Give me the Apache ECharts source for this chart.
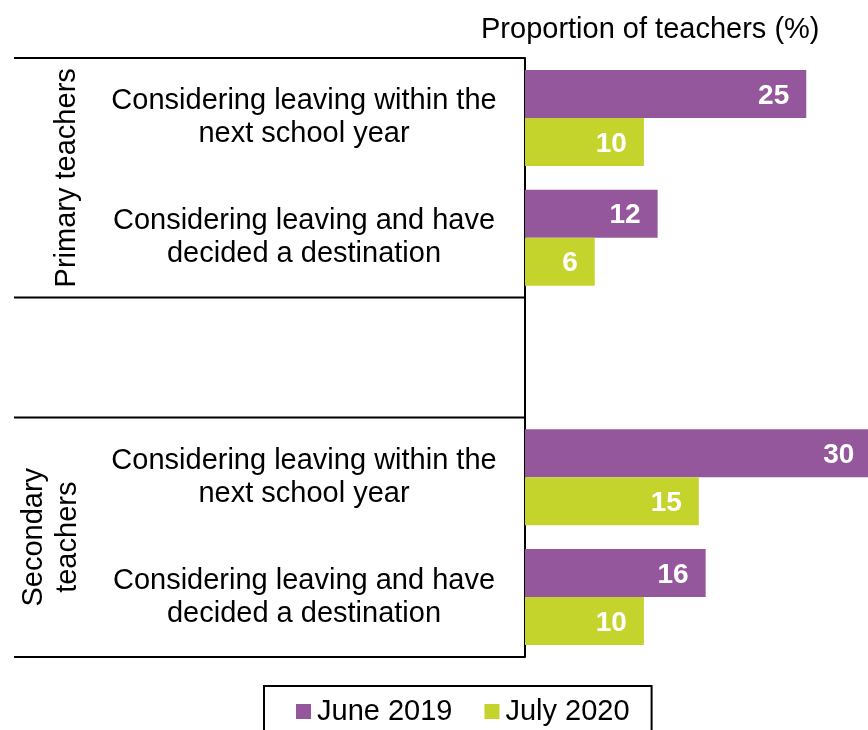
<!DOCTYPE html>
<html>
<head>
<meta charset="utf-8">
<script src="https://cdn.jsdelivr.net/npm/echarts@6/dist/echarts.min.js"></script>
<style>
html,body{margin:0;padding:0;background:#fff;}
#chart{width:868px;height:730px;}
</style>
</head>
<body>
<div id="chart"></div>
<script>
var categories = [
  'Considering leaving within the\nnext school year',
  'Considering leaving and have\ndecided a destination',
  '',
  'Considering leaving within the\nnext school year',
  'Considering leaving and have\ndecided a destination'
];
var groupLabels = ['Primary teachers', 'Secondary\nteachers'];
var seriesNames = ['June 2019', 'July 2020'];
var june2019 = [24.6, 11.6, null, 30.3, 15.8];
var july2020 = [10.4, 6.1, null, 15.2, 10.4];
var axisTitle = 'Proportion of teachers (%)';

var FONT = "'Liberation Sans', Arial, sans-serif";
var chart = echarts.init(document.getElementById('chart'));

var gridLeft = 525, gridTop = 58, gridW = 345, gridH = 599;
var lineX0 = 14;
var lineStyle = {stroke: '#000', lineWidth: 2};
var rowH = gridH / categories.length;
function hline(y) {
  return {type: 'line', shape: {x1: lineX0, y1: y, x2: gridLeft, y2: y}, style: lineStyle, z: 10};
}

var labelCfg = {
  show: true, position: 'insideRight', distance: 17, offset: [0, 2],
  color: '#fff', fontWeight: 'bold', fontSize: 28, fontFamily: FONT,
  formatter: function (p) { return p.value == null ? '' : Math.round(p.value); }
};

chart.setOption({
  animation: false,
  backgroundColor: '#fff',
  title: {
    text: axisTitle, left: 481, top: 14, padding: 0,
    textStyle: {fontSize: 29, fontWeight: 'normal', color: '#000', fontFamily: FONT, lineHeight: 32}
  },
  grid: {left: gridLeft, top: gridTop, width: gridW, height: gridH, containLabel: false},
  xAxis: {type: 'value', min: 0, max: 30, show: false},
  yAxis: {
    type: 'category', data: categories, inverse: true,
    axisLine: {show: true, lineStyle: {color: '#000', width: 2}},
    axisTick: {show: false},
    splitLine: {show: false},
    axisLabel: {
      align: 'center', margin: 221, fontSize: 29, lineHeight: 33,
      padding: [4, 0, 0, 0],
      color: '#000', fontFamily: FONT
    }
  },
  legend: {
    data: seriesNames, left: 264, top: 686, orient: 'horizontal',
    padding: [11, 22, 20, 32], itemGap: 32, itemWidth: 15, itemHeight: 15,
    icon: 'rect', borderColor: '#000', borderWidth: 2,
    textStyle: {fontSize: 29, color: '#000', fontFamily: FONT, lineHeight: 29, padding: [0, 0, 0, 1]}
  },
  series: [
    {name: seriesNames[0], type: 'bar', data: june2019, barWidth: 48, barGap: '0%', clip: false,
     itemStyle: {color: '#95579B'}, label: labelCfg},
    {name: seriesNames[1], type: 'bar', data: july2020, barWidth: 48, barGap: '0%', clip: false,
     itemStyle: {color: '#C5D42C'}, label: labelCfg}
  ],
  graphic: [
    hline(gridTop),
    hline(gridTop + rowH * 2),
    hline(gridTop + rowH * 3),
    hline(gridTop + gridH),
    {type: 'text', x: 67, y: gridTop + rowH, rotation: Math.PI / 2,
     style: {text: groupLabels[0], fontSize: 29, fontFamily: FONT, fill: '#000', align: 'center', verticalAlign: 'middle'}},
    {type: 'text', x: 51, y: gridTop + rowH * 4, rotation: Math.PI / 2,
     style: {text: groupLabels[1], fontSize: 29, lineHeight: 34, fontFamily: FONT, fill: '#000', align: 'center', verticalAlign: 'middle'}}
  ]
});
</script>
</body>
</html>
